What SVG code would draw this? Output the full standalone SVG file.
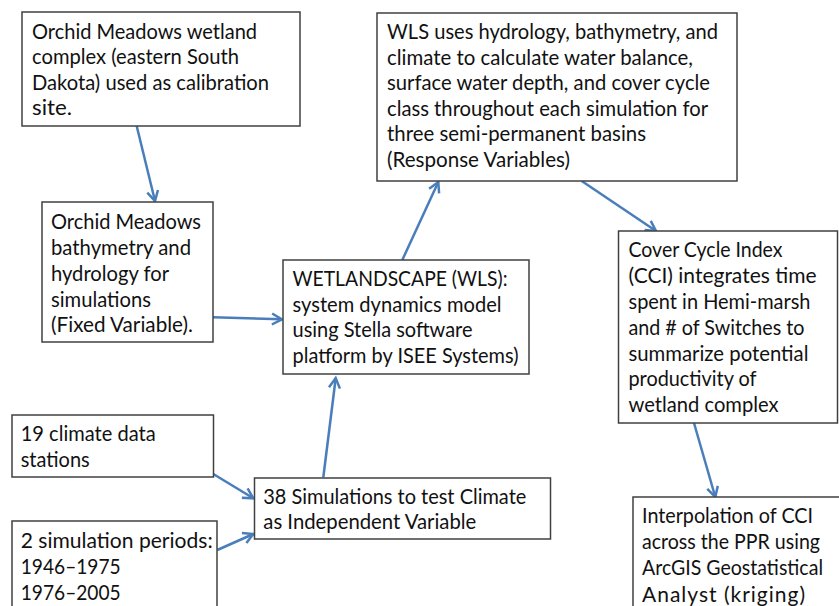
<svg xmlns="http://www.w3.org/2000/svg" width="839" height="606" viewBox="0 0 839 606">
<defs>
<style>
.box{fill:#ffffff;stroke:#404040;stroke-width:1.5}
.t{font-family:Lato,"Open Sans","Liberation Sans",sans-serif;font-size:21px;fill:#111111}
.c{stroke:#4A7EBB;stroke-width:2.5;fill:none;marker-end:url(#ah)}
</style>
<marker id="ah" markerUnits="userSpaceOnUse" markerWidth="16" markerHeight="16" viewBox="-12 -8 16 16" refX="0" refY="0" orient="auto">
<path d="M-10,-5.5 L0,0 L-10,5.5" fill="none" stroke="#4A7EBB" stroke-width="2.5" stroke-linejoin="miter"/>
</marker>
</defs>
<rect width="839" height="606" fill="#ffffff"/>
<g id="connectors">
<line class="c" x1="136.7" y1="126" x2="155" y2="201"/>
<line class="c" x1="213" y1="317.3" x2="282" y2="319.3"/>
<line class="c" x1="402.3" y1="260" x2="438.3" y2="182"/>
<line class="c" x1="581.7" y1="181" x2="656" y2="231"/>
<line class="c" x1="694" y1="423" x2="715.3" y2="497"/>
<line class="c" x1="213.3" y1="474" x2="253.3" y2="498.3"/>
<line class="c" x1="217.3" y1="550" x2="253.3" y2="534"/>
<line class="c" x1="323.3" y1="477.3" x2="335.7" y2="378"/>
</g>
<g id="calibration-site">
<rect class="box" x="22" y="12" width="278" height="114"/>
<text class="t"><tspan x="32" y="39" textLength="225" lengthAdjust="spacingAndGlyphs">Orchid Meadows wetland</tspan><tspan x="32" y="64.3" textLength="207" lengthAdjust="spacingAndGlyphs">complex (eastern South</tspan><tspan x="32" y="89.6" textLength="237" lengthAdjust="spacingAndGlyphs">Dakota) used as calibration</tspan><tspan x="32" y="114.9" textLength="40" lengthAdjust="spacingAndGlyphs">site.</tspan></text>
</g>
<g id="wls-response">
<rect class="box" x="377" y="13" width="360" height="168"/>
<text class="t"><tspan x="387" y="39.3" textLength="331" lengthAdjust="spacingAndGlyphs">WLS uses hydrology, bathymetry, and</tspan><tspan x="387" y="64.8" textLength="306" lengthAdjust="spacingAndGlyphs">climate to calculate water balance,</tspan><tspan x="387" y="90.3" textLength="323" lengthAdjust="spacingAndGlyphs">surface water depth, and cover cycle</tspan><tspan x="387" y="115.8" textLength="321" lengthAdjust="spacingAndGlyphs">class throughout each simulation for</tspan><tspan x="387" y="141.3" textLength="259" lengthAdjust="spacingAndGlyphs">three semi-permanent basins</tspan><tspan x="387" y="166.8" textLength="183" lengthAdjust="spacingAndGlyphs">(Response Variables)</tspan></text>
</g>
<g id="bathymetry">
<rect class="box" x="42" y="202" width="171" height="140"/>
<text class="t"><tspan x="51" y="229.3" textLength="150" lengthAdjust="spacingAndGlyphs">Orchid Meadows</tspan><tspan x="51" y="255" textLength="140" lengthAdjust="spacingAndGlyphs">bathymetry and</tspan><tspan x="51" y="280.7" textLength="118" lengthAdjust="spacingAndGlyphs">hydrology for</tspan><tspan x="51" y="306.5" textLength="100" lengthAdjust="spacingAndGlyphs">simulations</tspan><tspan x="51" y="332.3" textLength="142" lengthAdjust="spacingAndGlyphs">(Fixed Variable).</tspan></text>
</g>
<g id="wetlandscape">
<rect class="box" x="283" y="260" width="246" height="114"/>
<text class="t"><tspan x="292.5" y="286" textLength="215" lengthAdjust="spacingAndGlyphs">WETLANDSCAPE (WLS):</tspan><tspan x="292.5" y="311.7" textLength="209" lengthAdjust="spacingAndGlyphs">system dynamics model</tspan><tspan x="292.5" y="337.3" textLength="180" lengthAdjust="spacingAndGlyphs">using Stella software</tspan><tspan x="292.5" y="363" textLength="226" lengthAdjust="spacingAndGlyphs">platform by ISEE Systems)</tspan></text>
</g>
<g id="cci">
<rect class="box" x="618.5" y="231" width="219" height="192"/>
<text class="t"><tspan x="628.5" y="257.3" textLength="154" lengthAdjust="spacingAndGlyphs">Cover Cycle Index</tspan><tspan x="628.5" y="283.2" textLength="188" lengthAdjust="spacingAndGlyphs">(CCI) integrates time</tspan><tspan x="628.5" y="309" textLength="182" lengthAdjust="spacingAndGlyphs">spent in Hemi-marsh</tspan><tspan x="628.5" y="334.8" textLength="176" lengthAdjust="spacingAndGlyphs">and # of Switches to</tspan><tspan x="628.5" y="360.6" textLength="180" lengthAdjust="spacingAndGlyphs">summarize potential</tspan><tspan x="628.5" y="386.4" textLength="128" lengthAdjust="spacingAndGlyphs">productivity of</tspan><tspan x="628.5" y="412.2" textLength="150" lengthAdjust="spacingAndGlyphs">wetland complex</tspan></text>
</g>
<g id="climate-stations">
<rect class="box" x="12" y="415" width="201.5" height="62"/>
<text class="t"><tspan x="20.7" y="440.7" textLength="135" lengthAdjust="spacingAndGlyphs">19 climate data</tspan><tspan x="20.7" y="466.7" textLength="69" lengthAdjust="spacingAndGlyphs">stations</tspan></text>
</g>
<g id="simulation-periods">
<rect class="box" x="12" y="521" width="205" height="100"/>
<text class="t"><tspan x="20.7" y="548.3" textLength="192" lengthAdjust="spacingAndGlyphs">2 simulation periods:</tspan><tspan x="20.7" y="574" textLength="100" lengthAdjust="spacingAndGlyphs">1946–1975</tspan><tspan x="20.7" y="599.5" textLength="100" lengthAdjust="spacingAndGlyphs">1976–2005</tspan></text>
</g>
<g id="simulations">
<rect class="box" x="254.5" y="478" width="296" height="61"/>
<text class="t"><tspan x="263.3" y="504" textLength="263" lengthAdjust="spacingAndGlyphs">38 Simulations to test Climate</tspan><tspan x="263.3" y="528.8" textLength="213" lengthAdjust="spacingAndGlyphs">as Independent Variable</tspan></text>
</g>
<g id="interpolation">
<rect class="box" x="633" y="497" width="220" height="120"/>
<text class="t"><tspan x="642" y="523.3" textLength="171" lengthAdjust="spacingAndGlyphs">Interpolation of CCI</tspan><tspan x="642" y="549.3" textLength="178" lengthAdjust="spacingAndGlyphs">across the PPR using</tspan><tspan x="642" y="575.3" textLength="181" lengthAdjust="spacingAndGlyphs">ArcGIS Geostatistical</tspan><tspan x="642" y="601.5" textLength="163" lengthAdjust="spacing">Analyst (kriging)</tspan></text>
</g>
</svg>
